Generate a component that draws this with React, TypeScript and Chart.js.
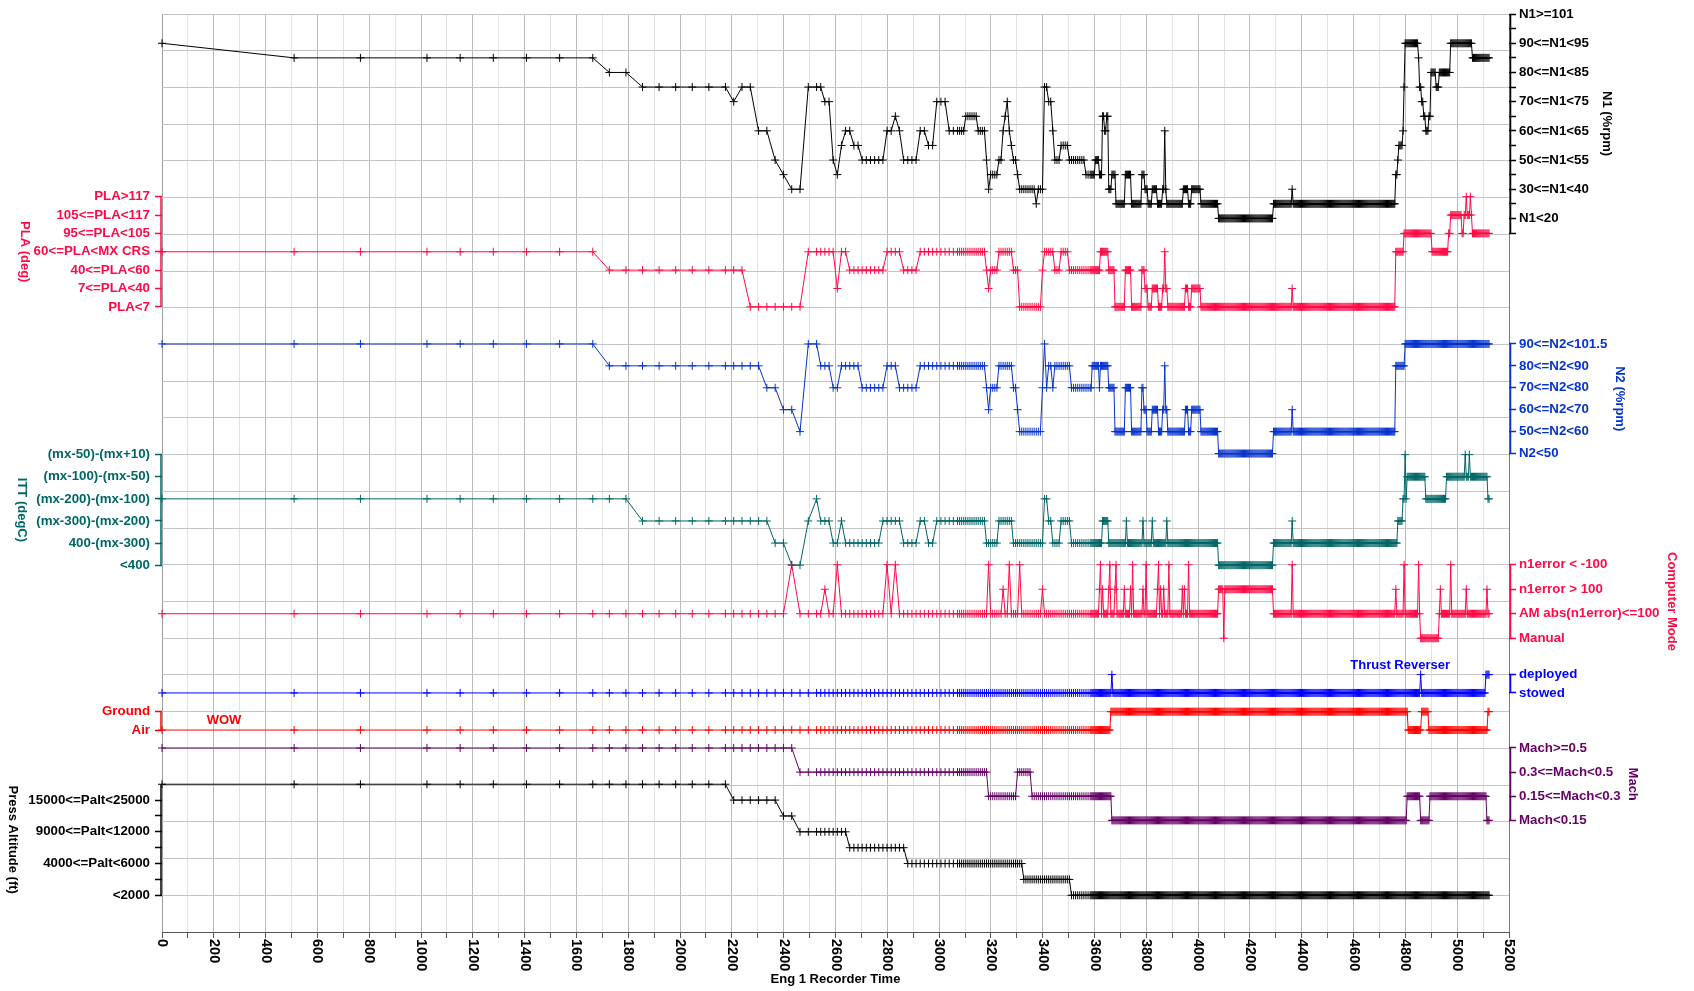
import React, { useEffect, useRef } from 'react';
import { Chart, registerables } from 'chart.js';

Chart.register(...registerables);

const W = 1694;
const H = 991;

const sampleAnchors = [0, 510, 766];
const sampleRuns: number[][] = [
  [1023, 1663, 128],
  [1663, 2175, 64],
  [2175, 2527, 32],
  [2527, 3071, 16],
  [3071, 3583, 8],
  [3583, 5123, 4],
];
const lastSample = 5123;

// ---------------- x axis ----------------
const xMin = 0;
const xMax = 5200;
const xTickStep = 100;
const xLabelStep = 200;
const xTitle = 'Eng 1 Recorder Time';

// ---------------- tick labels (index = level) ----------------
const n1Labels = ['N1<20', '30<=N1<40', '50<=N1<55', '60<=N1<65', '70<=N1<75', '80<=N1<85', '90<=N1<95', 'N1>=101'];
const plaLabels = ['PLA<7', '7<=PLA<40', '40<=PLA<60', '60<=PLA<MX CRS', '95<=PLA<105', '105<=PLA<117', 'PLA>117'];
const n2Labels = ['N2<50', '50<=N2<60', '60<=N2<70', '70<=N2<80', '80<=N2<90', '90<=N2<101.5'];
const ittLabels = ['<400', '400-(mx-300)', '(mx-300)-(mx-200)', '(mx-200)-(mx-100)', '(mx-100)-(mx-50)', '(mx-50)-(mx+10)'];
const cmLabels = ['Manual', 'AM abs(n1error)<=100', 'n1error > 100', 'n1error < -100'];
const trLabels = ['stowed', 'deployed'];
const wowLabels = ['Air', 'Ground'];
const machLabels = ['Mach<0.15', '0.15<=Mach<0.3', '0.3<=Mach<0.5', 'Mach>=0.5'];
const paltLabels = ['<2000', '4000<=Palt<6000', '9000<=Palt<12000', '15000<=Palt<25000'];

// ---------------- series: [time, level] changes and one-sample spikes ----------------
const n1Changes = [
  [0, 6], [500, 5.5], [1700, 5], [1830, 4.5], [2195, 4], [2225, 4.5], [2290, 3], [2360, 2], [2395, 1.5], [2430, 1],
  [2490, 4.5], [2555, 4], [2585, 2], [2605, 1.5], [2620, 2.5], [2640, 3], [2670, 2.5], [2700, 2], [2800, 3], [2825, 3.5],
  [2845, 3], [2860, 2], [2930, 3], [2960, 2.5], [2990, 4], [3040, 3], [3105, 3.5], [3155, 3], [3180, 2], [3190, 1],
  [3200, 1.5], [3230, 2], [3245, 3], [3255, 3.5], [3260, 4], [3270, 3], [3280, 2.5], [3290, 2], [3305, 1.5], [3315, 1],
  [3405, 4.5], [3425, 4], [3440, 3], [3447, 2], [3475, 2.5], [3500, 2], [3570, 1.5], [3605, 2], [3620, 1.5], [3632, 3.5],
  [3640, 3], [3648, 3.5], [3655, 1], [3668, 1.5], [3683, 0.5], [3718, 1.5], [3745, 0.5], [3782, 1.5], [3795, 1], [3806, 0.5],
  [3822, 1], [3845, 0.5], [3862, 1], [3880, 0.5], [3945, 1], [3962, 0.5], [3975, 1], [4010, 0.5], [4080, 0], [4290, 0.5],
  [4762, 1.5], [4770, 2], [4776, 2.5], [4790, 3], [4794, 4.5], [4798, 6], [4850, 5.5], [4857, 4.5], [4865, 4], [4873, 3.5],
  [4880, 3], [4890, 3.5], [4898, 5], [4920, 4.5], [4930, 5], [4976, 6], [5060, 5.5],
];
const n1Spikes = [[3376, 0.5], [3872, 3], [4365, 1]];

const plaChanges = [
  [0, 3], [1700, 2], [2285, 0], [2485, 3], [2600, 1], [2625, 3], [2650, 2], [2792, 3], [2860, 2], [2920, 3],
  [3187, 2], [3235, 3], [3290, 2], [3310, 0], [3400, 2], [3405, 3], [3445, 2], [3475, 3], [3503, 2], [3625, 3],
  [3655, 2], [3680, 0], [3718, 2], [3745, 0], [3782, 2], [3795, 1], [3808, 0], [3822, 1], [3848, 0], [3862, 1],
  [3882, 0], [3950, 1], [3965, 0], [3975, 1], [4010, 0], [4765, 3], [4795, 4], [4905, 3], [4968, 4], [4975, 5],
  [5020, 4], [5028, 5], [5058, 4],
];
const plaSpikes = [[3194, 1], [3872, 3], [4365, 1], [5036, 6], [5050, 6]];

const n2Changes = [
  [0, 5], [1700, 4], [2350, 3], [2385, 2], [2450, 1], [2480, 5], [2545, 4], [2585, 3], [2620, 4], [2698, 3],
  [2792, 4], [2855, 3], [2920, 4], [3180, 3], [3235, 4], [3290, 3], [3305, 2], [3315, 1], [3400, 3], [3425, 4],
  [3508, 3], [3590, 4], [3618, 3], [3625, 4], [3655, 3], [3680, 1], [3718, 3], [3745, 1], [3782, 3], [3792, 2],
  [3805, 1], [3822, 2], [3848, 1], [3862, 2], [3882, 1], [3950, 2], [3965, 1], [3975, 2], [4010, 1], [4080, 0],
  [4290, 1], [4765, 4], [4800, 5],
];
const n2Spikes = [[3194, 2], [3407, 5], [3440, 3], [3872, 4], [4365, 2]];

const ittChanges = [
  [0, 3], [1830, 2], [2355, 1], [2420, 0], [2485, 2], [2520, 3], [2545, 2], [2590, 1], [2620, 2], [2645, 1],
  [2790, 2], [2860, 1], [2920, 2], [2958, 1], [2990, 2], [3187, 1], [3235, 2], [3290, 1], [3405, 3], [3425, 2],
  [3437, 1], [3475, 2], [3508, 1], [3630, 2], [3655, 1], [4080, 0], [4290, 1], [4770, 2], [4790, 3], [4806, 4],
  [4880, 3], [4960, 4], [5120, 3],
];
const ittSpikes = [[3724, 2], [3786, 2], [3823, 2], [3878, 2], [4365, 2], [4800, 5], [5030, 5], [5048, 5]];

const cmChanges = [[0, 1], [4080, 2], [4292, 1], [4859, 0], [4932, 1]];
const cmSpikes = [
  [2434, 3], [2563, 2], [2607, 3], [2801, 3], [2832, 3], [3194, 3], [3250, 2], [3271, 3], [3315, 3], [3398, 2],
  [3620, 2], [3625, 3], [3632, 2], [3657, 2], [3660, 3], [3680, 2], [3683, 3], [3717, 2], [3740, 2], [3747, 3],
  [3786, 2], [3801, 3], [3842, 2], [3846, 3], [3854, 2], [3866, 2], [3889, 3], [3940, 2], [3949, 2], [3962, 3],
  [4100, 0], [4363, 3], [4763, 2], [4795, 3], [4851, 3], [4935, 2], [4976, 3], [5034, 2], [5116, 2],
];

const trChanges = [[0, 0], [5112, 1]];
const trSpikes = [[3668, 1], [4859, 1]];

const wowChanges = [[0, 0], [3665, 1], [4810, 0], [4862, 1], [4893, 0], [5118, 1]];
const wowSpikes: number[][] = [];

const machChanges = [[0, 3], [2455, 2], [3192, 1], [3300, 2], [3360, 1], [3668, 0], [4808, 1], [4860, 0], [4895, 1], [5116, 0]];
const machSpikes: number[][] = [];

const paltChanges = [[0, 3.5], [2195, 3], [2390, 2.5], [2455, 2], [2662, 1.5], [2875, 1], [3328, 0.5], [3510, 0]];
const paltSpikes: number[][] = [];

// ---------------- layout of the stacked tracks (grid units, 0 = top, 25 = bottom) ----------------
type Track = {
  id: string; side: 'left' | 'right'; color: string; base: number; step: number;
  labels: string[]; minor: number[]; changes: number[][]; spikes: number[][];
  title: string; titleX: number; axisTop: number; axisBottom: number;
};

const TRACKS: Track[] = [
  { id: 'n1', side: 'right', color: '#000000', base: 5.567, step: 0.795, labels: n1Labels, minor: [-0.5, 0.5, 1.5, 2.5, 3.5, 4.5, 5.5, 6.5], changes: n1Changes, spikes: n1Spikes, title: 'N1 (%rpm)', titleX: 1607, axisTop: 7, axisBottom: -0.5 },
  { id: 'pla', side: 'left', color: '#ff0a45', base: 7.975, step: 0.5, labels: plaLabels, minor: [], changes: plaChanges, spikes: plaSpikes, title: 'PLA (deg)', titleX: 25, axisTop: 6, axisBottom: 0 },
  { id: 'n2', side: 'right', color: '#0533cc', base: 11.97, step: 0.597, labels: n2Labels, minor: [], changes: n2Changes, spikes: n2Spikes, title: 'N2 (%rpm)', titleX: 1620, axisTop: 5, axisBottom: 0 },
  { id: 'itt', side: 'left', color: '#006666', base: 15.01, step: 0.602, labels: ittLabels, minor: [], changes: ittChanges, spikes: ittSpikes, title: 'ITT (degC)', titleX: 22, axisTop: 5, axisBottom: 0 },
  { id: 'cm', side: 'right', color: '#ff0a45', base: 17.0, step: 0.667, labels: cmLabels, minor: [], changes: cmChanges, spikes: cmSpikes, title: 'Computer Mode', titleX: 1672, axisTop: 3, axisBottom: 0 },
  { id: 'tr', side: 'right', color: '#0000ff', base: 18.49, step: 0.5, labels: trLabels, minor: [], changes: trChanges, spikes: trSpikes, title: '', titleX: 0, axisTop: 1, axisBottom: 0 },
  { id: 'wow', side: 'left', color: '#ff0000', base: 19.5, step: 0.5, labels: wowLabels, minor: [], changes: wowChanges, spikes: wowSpikes, title: '', titleX: 0, axisTop: 1, axisBottom: 0 },
  { id: 'mach', side: 'right', color: '#660066', base: 21.96, step: 0.657, labels: machLabels, minor: [], changes: machChanges, spikes: machSpikes, title: 'Mach', titleX: 1633, axisTop: 3, axisBottom: 0 },
  { id: 'palt', side: 'left', color: '#000000', base: 24.0, step: 0.864, labels: paltLabels, minor: [0.5, 1.5, 2.5], changes: paltChanges, spikes: paltSpikes, title: 'Press Altitude (ft)', titleX: 13, axisTop: 3.5, axisBottom: 0 },
];

const inPlotLabels = [
  { text: 'Thrust Reverser', color: '#0000ff', x: 1450, y: 665, align: 'right' as CanvasTextAlign },
  { text: 'WOW', color: '#ff0000', x: 224, y: 720, align: 'center' as CanvasTextAlign },
];

const GRID_DIV = 25;
const LABEL_FONT = '"Liberation Sans", Arial, sans-serif';

// ---------------- helpers ----------------
function buildSampleTimes(): number[] {
  const out = [...sampleAnchors];
  for (const [s, e, st] of sampleRuns) {
    for (let t = s; t < e; t += st) out.push(t);
  }
  out.push(lastSample);
  return out;
}
const TIMES = buildSampleTimes();

function nearestIndex(t: number): number {
  let lo = 0, hi = TIMES.length - 1;
  while (hi - lo > 1) {
    const mid = (lo + hi) >> 1;
    if (TIMES[mid] <= t) lo = mid; else hi = mid;
  }
  return Math.abs(TIMES[lo] - t) <= Math.abs(TIMES[hi] - t) ? lo : hi;
}

function buildLevels(changes: number[][], spikes: number[][]): number[] {
  const n = TIMES.length;
  const setAt: (number | null)[] = new Array(n).fill(null);
  for (const [t, l] of changes) setAt[nearestIndex(t)] = l;
  const out: number[] = [];
  let cur = changes[0][1];
  for (let i = 0; i < n; i++) {
    if (setAt[i] !== null) cur = setAt[i] as number;
    out.push(cur);
  }
  for (const [t, l] of spikes) out[nearestIndex(t)] = l;
  return out;
}

const valOf = (tr: Track, level: number) => tr.base - level * tr.step;

type TickDef = { value: number; label: string; color: string };
function tickDefs(side: 'left' | 'right'): TickDef[] {
  const defs: TickDef[] = [];
  for (const tr of TRACKS) {
    if (tr.side !== side) continue;
    tr.labels.forEach((lab, i) => defs.push({ value: valOf(tr, i), label: lab, color: tr.color }));
    tr.minor.forEach((m) => defs.push({ value: valOf(tr, m), label: '', color: tr.color }));
  }
  return defs;
}
const LEFT_TICKS = tickDefs('left');
const RIGHT_TICKS = tickDefs('right');

const decorPlugin = {
  id: 'decor',
  afterDraw(chart: any) {
    const ctx: CanvasRenderingContext2D = chart.ctx;
    const ys = chart.scales.y;
    const xs = chart.scales.x;
    const ca = chart.chartArea;
    ctx.save();
    // track axis segments + titles
    for (const tr of TRACKS) {
      const x = tr.side === 'left' ? ca.left - 1 : ca.right + 1.5;
      const y1 = ys.getPixelForValue(valOf(tr, tr.axisTop));
      const y2 = ys.getPixelForValue(valOf(tr, tr.axisBottom));
      ctx.strokeStyle = tr.color;
      ctx.lineWidth = 1.5;
      ctx.beginPath();
      ctx.moveTo(x, y1);
      ctx.lineTo(x, y2);
      ctx.stroke();
      if (tr.title) {
        ctx.save();
        ctx.translate(tr.titleX, (y1 + y2) / 2);
        ctx.rotate(Math.PI / 2);
        ctx.font = `bold 13px ${LABEL_FONT}`;
        ctx.fillStyle = tr.color;
        ctx.textAlign = 'center';
        ctx.textBaseline = 'middle';
        ctx.fillText(tr.title, 0, 0);
        ctx.restore();
      }
    }
    // in-plot labels
    ctx.font = `bold 13px ${LABEL_FONT}`;
    ctx.textBaseline = 'middle';
    for (const l of inPlotLabels) {
      ctx.fillStyle = l.color;
      ctx.textAlign = l.align;
      ctx.fillText(l.text, l.x, l.y);
    }
    // x tick labels, rotated clockwise
    ctx.fillStyle = '#000';
    ctx.font = `bold 14.5px ${LABEL_FONT}`;
    for (let v = xMin; v <= xMax; v += xLabelStep) {
      const px = xs.getPixelForValue(v);
      ctx.save();
      ctx.translate(px, ca.bottom + 7);
      ctx.rotate(Math.PI / 2);
      ctx.textAlign = 'left';
      ctx.textBaseline = 'middle';
      ctx.fillText(String(v), 0, 0);
      ctx.restore();
    }
    // x title
    ctx.font = `bold 13px ${LABEL_FONT}`;
    ctx.textAlign = 'center';
    ctx.textBaseline = 'middle';
    ctx.fillText(xTitle, (ca.left + ca.right) / 2, 979);
    ctx.restore();
  },
};

export default function App() {
  const ref = useRef<HTMLCanvasElement | null>(null);
  useEffect(() => {
    document.body.style.margin = '0';
    const canvas = ref.current;
    if (!canvas) return;
    const datasets = TRACKS.map((tr) => {
      const lv = buildLevels(tr.changes, tr.spikes);
      return {
        label: tr.id,
        data: lv.map((l, i) => ({ x: TIMES[i], y: valOf(tr, l) })),
        borderColor: tr.color,
        backgroundColor: tr.color,
        borderWidth: 1,
        pointStyle: 'cross',
        pointRadius: 4,
        pointHoverRadius: 4,
        pointBorderWidth: 1,
        pointBorderColor: tr.color,
        fill: false,
        tension: 0,
        clip: false,
        xAxisID: 'x',
        yAxisID: 'y',
      };
    });
    const xTicks: { value: number }[] = [];
    for (let v = xMin; v <= xMax; v += xTickStep) xTicks.push({ value: v });
    const gridTicks: { value: number }[] = [];
    for (let v = 0; v <= GRID_DIV; v++) gridTicks.push({ value: v });

    const tickFont = { family: LABEL_FONT, weight: 'bold' as const, size: 13.3 };

    const chart = new Chart(canvas, {
      type: 'line',
      data: { datasets: datasets as any },
      plugins: [decorPlugin],
      options: {
        responsive: false,
        animation: false,
        devicePixelRatio: 1,
        events: [],
        parsing: false,
        layout: { padding: { top: 14, left: 0, right: 0, bottom: 0 } },
        plugins: { legend: { display: false }, tooltip: { enabled: false } },
        scales: {
          x: {
            type: 'linear',
            position: 'bottom',
            min: xMin,
            max: xMax,
            afterBuildTicks: (s: any) => { s.ticks = xTicks.map((t) => ({ ...t })); },
            afterFit: (s: any) => { s.height = H - 932; },
            ticks: { display: false, autoSkip: false },
            grid: {
              color: (c: any) => {
                const v = c.tick ? c.tick.value : 0;
                if (v === xMax) return '#7a7a7a';
                if (v === xMin) return '#9a9a9a';
                return v % 200 === 0 ? '#b9b9b9' : '#e2e2e2';
              },
              lineWidth: 1,
              drawTicks: true,
              tickLength: 6,
              tickColor: '#555555',
              tickWidth: 1,
            },
            border: { display: true, color: '#555555', width: 1 },
          },
          yGrid: {
            type: 'linear',
            position: 'left',
            min: 0,
            max: GRID_DIV,
            reverse: true,
            afterBuildTicks: (s: any) => { s.ticks = gridTicks.map((t) => ({ ...t })); },
            afterFit: (s: any) => { s.width = 0; },
            ticks: { display: false, autoSkip: false },
            grid: { color: '#c4c4c4', lineWidth: 1, drawTicks: false, drawOnChartArea: true },
            border: { display: false },
          },
          y: {
            type: 'linear',
            position: 'left',
            min: 0,
            max: GRID_DIV,
            reverse: true,
            afterBuildTicks: (s: any) => { s.ticks = LEFT_TICKS.map((d) => ({ value: d.value })); },
            afterFit: (s: any) => { s.width = 162; },
            ticks: {
              autoSkip: false,
              padding: 5,
              font: tickFont,
              color: (c: any) => (LEFT_TICKS[c.index] ? LEFT_TICKS[c.index].color : '#000'),
              callback: (_v: any, i: number) => (LEFT_TICKS[i] ? LEFT_TICKS[i].label : ''),
            },
            grid: {
              drawOnChartArea: false,
              drawTicks: true,
              tickLength: 7,
              tickWidth: 1.5,
              tickColor: (c: any) => (LEFT_TICKS[c.index] ? LEFT_TICKS[c.index].color : '#000'),
              color: 'rgba(0,0,0,0)',
            },
            border: { display: false },
          },
          y2: {
            type: 'linear',
            position: 'right',
            min: 0,
            max: GRID_DIV,
            reverse: true,
            afterBuildTicks: (s: any) => { s.ticks = RIGHT_TICKS.map((d) => ({ value: d.value })); },
            afterFit: (s: any) => { s.width = W - 1509; },
            ticks: {
              autoSkip: false,
              padding: 3,
              font: tickFont,
              color: (c: any) => (RIGHT_TICKS[c.index] ? RIGHT_TICKS[c.index].color : '#000'),
              callback: (_v: any, i: number) => (RIGHT_TICKS[i] ? RIGHT_TICKS[i].label : ''),
            },
            grid: {
              drawOnChartArea: false,
              drawTicks: true,
              tickLength: 7,
              tickWidth: 1.5,
              tickColor: (c: any) => (RIGHT_TICKS[c.index] ? RIGHT_TICKS[c.index].color : '#000'),
              color: 'rgba(0,0,0,0)',
            },
            border: { display: false },
          },
        },
      } as any,
    });
    return () => chart.destroy();
  }, []);
  return (
    <div style={{ width: W, height: H, background: '#ffffff' }}>
      <canvas ref={ref} width={W} height={H} style={{ display: 'block', width: W, height: H }} />
    </div>
  );
}
